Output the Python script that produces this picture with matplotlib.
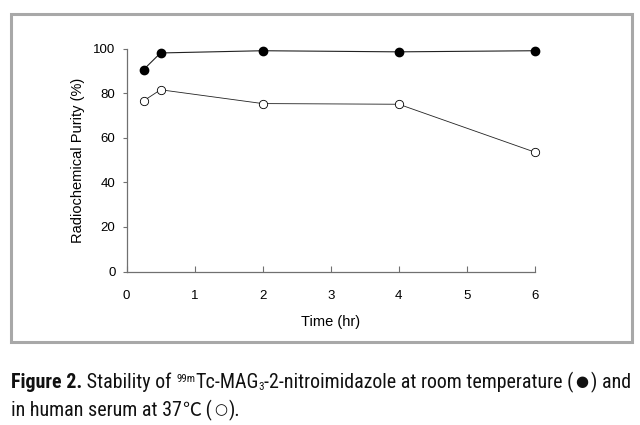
import matplotlib
matplotlib.use("Agg")
import matplotlib.pyplot as plt
from matplotlib.patches import Rectangle

time_hr = [0.25, 0.5, 2, 4, 6]
room_temp = [90.5, 98.0, 99.0, 98.5, 99.0]
serum_37 = [76.5, 81.5, 75.3, 75.0, 53.5]
x_ticks = [0, 1, 2, 3, 4, 5, 6]
y_ticks = [0, 20, 40, 60, 80, 100]

plt.rcParams['font.family'] = ['Liberation Sans', 'DejaVu Sans']

W, H = 640, 425
fig = plt.figure(figsize=(W / 100, H / 100), dpi=100)
fig.patch.set_facecolor('white')

def fx(px):
    return px / W

def fy(py):
    return 1 - py / H

# grey frame
fig.patches.append(Rectangle((fx(11), fy(342)), fx(632) - fx(11), fy(14) - fy(342),
                             transform=fig.transFigure, fill=False,
                             edgecolor='#a8a8a8', linewidth=2.2))

ax = fig.add_axes([fx(126.5), fy(271.5), fx(535) - fx(126.5), fy(48.5) - fy(271.5)])
ax.plot(time_hr, room_temp, color='#222222', linewidth=0.8, marker='o',
        markersize=6, markerfacecolor='black', markeredgecolor='black', clip_on=False)
ax.plot(time_hr, serum_37, color='#222222', linewidth=0.6, marker='o',
        markersize=6, markerfacecolor='white', markeredgecolor='black',
        markeredgewidth=0.6, clip_on=False)

ax.set_xlim(0, 6)
ax.set_ylim(0, 100)
ax.set_xticks(x_ticks)
ax.set_yticks(y_ticks)
for s in ['top', 'right']:
    ax.spines[s].set_visible(False)
for s in ['left', 'bottom']:
    ax.spines[s].set_color('#707070')
    ax.spines[s].set_linewidth(0.9)
ax.tick_params(axis='x', direction='in', length=4, width=0.8, color='#707070',
               pad=13, labelsize=9.5)
ax.tick_params(axis='y', direction='out', length=3, width=0.8, color='#707070',
               pad=5, labelsize=9.5)
ax.set_xlabel('Time (hr)', fontsize=10.5, labelpad=10)
ax.set_ylabel('Radiochemical Purity (%)', fontsize=10.5, labelpad=6)

# caption built from pieces
fig.canvas.draw()
renderer = fig.canvas.get_renderer()
fam = ['Roboto Condensed', 'Liberation Sans', 'DejaVu Sans']
sym = ['DejaVu Sans']
cjk = ['Noto Sans CJK KR', 'DejaVu Sans']

# (text, relative size, weight, vertical shift px, family, extra gap px after)
line1 = [('Figure 2.', 1.0, 'bold', 0, fam, 0),
         (' Stability of ', 1.0, 'normal', 0, fam, 0),
         ('99m', 0.55, 'normal', 6, fam, 0),
         ('Tc-MAG', 1.0, 'normal', 0, fam, 0),
         ('3', 0.55, 'normal', -2, fam, 0),
         ('-2-nitroimidazole at room temperature (', 1.0, 'normal', 0, fam, 2),
         ('\u25cf', 0.75, 'normal', 1.5, sym, 2),
         (') and', 1.0, 'normal', 0, fam, 0)]
line2 = [('in human serum at 37', 1.0, 'normal', 0, fam, 0),
         ('\u2103', 0.95, 'normal', 0, cjk, 0),
         (' (', 1.0, 'normal', 0, fam, 2),
         ('\u25cb', 0.75, 'normal', 1.5, sym, 2),
         (').', 1.0, 'normal', 0, fam, 0)]

def layout(pieces, x0, y, size):
    x = x0
    texts = []
    for s, rel, weight, dy, family, gap in pieces:
        t = fig.text(fx(x), fy(y) + dy / H, s, fontsize=size * rel, fontweight=weight,
                     family=family, va='baseline', ha='left', color='#111111')
        bb = t.get_window_extent(renderer)
        texts.append(t)
        x += bb.width + gap
    return x, texts

size = 14.0
end, texts = layout(line1, 11, 388, size)
for t in texts:
    t.remove()
size = size * (633 - 11) / (end - 11)
layout(line1, 11, 388, size)
layout(line2, 11, 416, size)

fig.savefig('out.png', dpi=100)
